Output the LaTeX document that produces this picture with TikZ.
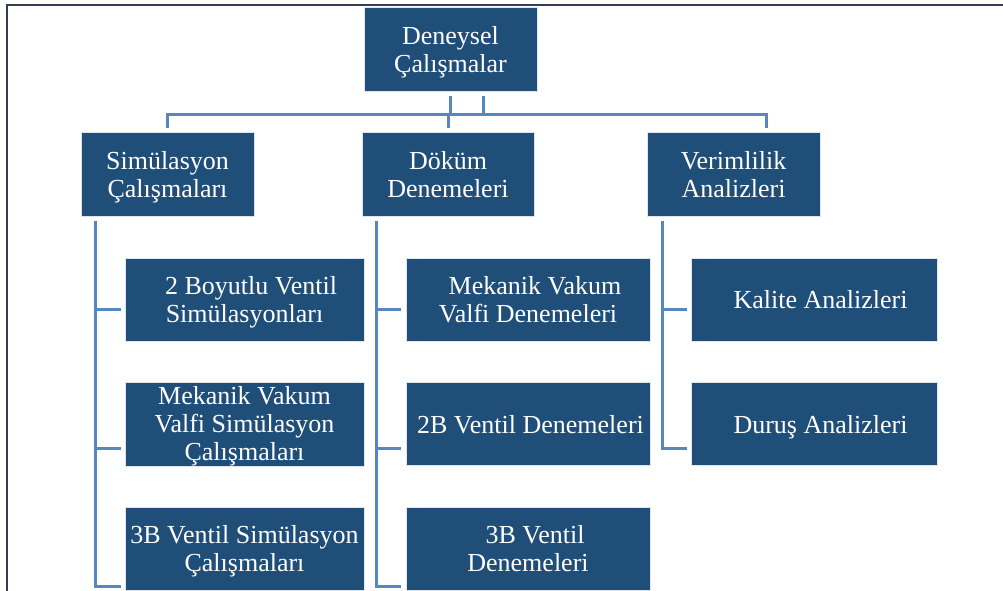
\documentclass[tikz,border=0pt]{standalone}
\usepackage{fontspec}
\setmainfont{Liberation Serif}
\usetikzlibrary{calc}
\definecolor{boxblue}{RGB}{31,78,121}
\definecolor{connblue}{RGB}{86,135,192}
\definecolor{framegray}{RGB}{52,62,80}
\newcommand{\mytop}{\rule{0pt}{24pt}}
\newcommand{\mybot}{\rule[-6pt]{0pt}{6pt}}
\newcommand{\mytopb}{\rule{0pt}{22.5pt}}
\newcommand{\mybotb}{\rule[-4.5pt]{0pt}{4.5pt}}
\begin{document}
\begin{tikzpicture}[x=1pt,y=-1pt,
  box/.style={fill=boxblue,draw=white!85!boxblue,line width=0.6pt,text=white,inner sep=0pt,
    align=center,font=\fontsize{26}{28}\selectfont},
  topbox/.style={box,minimum width=173pt,minimum height=84pt},
  subbox/.style={box,minimum height=83pt},
  conn/.style={draw=connblue,line width=3pt},
  frame/.style={draw=framegray,line width=1.4pt}]
\useasboundingbox (0,0) rectangle (1003,590);
\clip (0,0) rectangle (1003,590);
\fill[white] (0,0) rectangle (1003,590);
% frame
\draw[frame] (7,600) -- (7,5) -- (1010,5);
% nodes
\node[topbox] (root) at (450.5,49) {\mytop Deneysel\\Çalışmalar\mybot};
\node[topbox] (sim) at (167.5,174.5) {\mytop Simülasyon\\Çalışmaları\mybot};
\node[topbox,minimum width=172pt] (dok) at (448,174.5) {\mytop Döküm\\Denemeleri\mybot};
\node[topbox] (ver) at (733.5,174.5) {\mytop Verimlilik\\Analizleri\mybot};
\node[subbox,minimum width=239pt] (s1) at (244.5,299.5) {\mytop\hspace*{13pt}2 Boyutlu Ventil\\Simülasyonları\mybot};
\node[subbox,minimum width=239pt] (s2) at (244.5,424) {\mytopb Mekanik Vakum\\Valfi Simülasyon\\Çalışmaları\mybotb};
\node[subbox,minimum width=239pt] (s3) at (244.5,548.5) {\mytop 3B Ventil Simülasyon\\Çalışmaları\mybot};
\node[subbox,minimum width=244pt] (d1) at (528,299.5) {\mytop\hspace*{14pt}Mekanik Vakum\\Valfi Denemeleri\mybot};
\node[subbox,minimum width=244pt] (d2) at (528,424) {\mytop\hspace*{5pt}2B Ventil Denemeleri\mybot};
\node[subbox,minimum width=244pt] (d3) at (528,548.5) {\mytop\hspace*{14pt}3B Ventil\\Denemeleri\mybot};
\node[subbox,minimum width=246pt] (v1) at (814,299.5) {\mytop\hspace*{13pt}Kalite Analizleri\mybot};
\node[subbox,minimum width=246pt] (v2) at (814,424) {\mytop\hspace*{13pt}Duruş Analizleri\mybot};
% root connectors
\draw[conn] ($(root.south)+(0,5)$) -- ++(0,18.5);
\draw[conn] ($(root.south)+(32.5,5)$) -- ++(0,18.5);
\draw[conn] ($(sim.north)+(0,-4.5)$) |- ($(ver.north)+(32.5,-18)$) -- ++(0,13.5);
\draw[conn] ($(dok.north)+(0,-4.5)$) -- ++(0,-13.5);
% simulation column
\draw[conn] ($(sim.south west)+(15,4.5)$) |- ($(s3.west)+(-4,37.5)$);
\draw[conn] ($(s1.west)+(-4,9.5)$) -- ++(-25,0);
\draw[conn] ($(s2.west)+(-4,24)$) -- ++(-25,0);
% casting column
\draw[conn] ($(dok.south west)+(15,4.5)$) |- ($(d3.west)+(-5,37.5)$);
\draw[conn] ($(d1.west)+(-5,9.5)$) -- ++(-24,0);
\draw[conn] ($(d2.west)+(-5,24)$) -- ++(-24,0);
% efficiency column
\draw[conn] ($(ver.south west)+(16,4.5)$) |- ($(v2.west)+(-4,24)$);
\draw[conn] ($(v1.west)+(-4,9.5)$) -- ++(-24,0);
\end{tikzpicture}
\end{document}
